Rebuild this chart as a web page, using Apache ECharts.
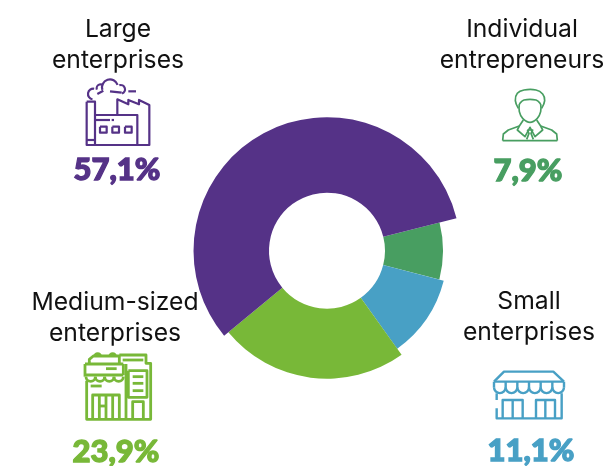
<!DOCTYPE html>
<html><head><meta charset="utf-8">
<style>html,body{margin:0;padding:0;background:#fff}#c{width:611px;height:466px}</style>
<script src="https://cdn.jsdelivr.net/npm/echarts@6/dist/echarts.min.js"></script>
</head><body><div id="c"></div>
<script>
const categories = ['Large\nenterprises','Individual\nentrepreneurs','Small\nenterprises','Medium-sized\nenterprises'];
const values = [57.1, 7.9, 11.1, 23.9];
const colors = ['#553287','#489e61','#48a0c5','#78b838'];
const outerRadii = [133.5, 116, 120.5, 128];
const labelPos = [[118,45],[522,45],[529,317],[115,318]];
const pctPos = [[117,170],[528,171],[531,451],[116,452]];

const chart = echarts.init(document.getElementById('c'), null, {renderer:'canvas'});
const graphic = [];
function poly(o, pts, color, w, smooth){
  graphic.push({type:'polyline', silent:true, shape:{points:pts.map(p=>[o[0]+p[0]/3,o[1]+p[1]/3]), smooth:smooth||0},
    style:{stroke:color, lineWidth:w||2, fill:null, lineJoin:'round', lineCap:'butt'}});
}
function box(o,x,y,w,h,color,lw){
  poly(o,[[x,y],[x+w,y],[x+w,y+h],[x,y+h],[x,y]],color,lw);
}
function arc(o,cx,cy,r,a0,a1,color,lw){
  graphic.push({type:'arc',silent:true,shape:{cx:o[0]+cx/3,cy:o[1]+cy/3,r:r/3,startAngle:a0,endAngle:a1,clockwise:true},
    style:{stroke:color,lineWidth:lw,fill:null}});
}
categories.forEach((c,i)=>{
  graphic.push({type:'text',silent:true,x:labelPos[i][0],y:labelPos[i][1],
    style:{text:c,font:'400 24.7px Inter',fill:'#111',align:'center',verticalAlign:'middle',lineHeight:31.5}});
  graphic.push({type:'text',silent:true,x:pctPos[i][0],y:pctPos[i][1],
    style:{text:String(values[i]).replace('.',',')+'%',font:'900 31px Lato',fill:colors[i],align:'center',verticalAlign:'middle',stroke:colors[i],lineWidth:1.3}});
});
const PI=Math.PI;
// factory icon
(function(){const o=[60,70],c=colors[0],w=2.2;
  box(o,80,95,25,130,c,w);
  poly(o,[[80,210],[105,210]],c,w);
  poly(o,[[105,135],[232,135],[232,225]],c,w);
  poly(o,[[105,225],[268,225],[268,105],[237,90],[237,103],[205,90],[205,103],[172,88],[172,135]],c,w);
  poly(o,[[108,150],[150,150]],c,w);poly(o,[[155,150],[162,150]],c,w);
  box(o,120,170,20,18,c,w);box(o,157,170,20,18,c,w);box(o,195,170,20,18,c,w);
  arc(o,100,72,16,PI*0.55,PI*1.55,c,w);
  arc(o,150,52,24,PI*0.9,PI*1.9,c,w);
  arc(o,122,55,12,PI*0.9,PI*1.7,c,w);
  arc(o,182,58,13,PI*1.4,PI*0.4,c,w);
  poly(o,[[112,72],[130,62]],c,w);
  poly(o,[[150,64],[185,68]],c,w);
  poly(o,[[205,64],[228,64]],c,w);
})();
// person icon
(function(){const o=[480,80],c=colors[1],w=1.7;
  poly(o,[[118,72],[118,95],[128,115],[150,127],[172,115],[182,95],[182,72]],c,w,0.4);
  poly(o,[[118,72],[132,60],[168,60],[182,72]],c,w,0.3);
  poly(o,[[115,85],[106,62],[112,40],[132,30],[168,30],[188,42],[194,62],[185,85]],c,w,0.4);
  poly(o,[[68,182],[70,162],[85,150],[118,138],[130,120]],c,w);
  poly(o,[[232,182],[230,162],[215,150],[182,138],[170,120]],c,w);
  poly(o,[[68,182],[232,182]],c,w);
  poly(o,[[118,138],[112,150],[135,170],[150,142],[165,170],[188,150],[182,138]],c,w);
  poly(o,[[142,150],[158,150],[153,160],[160,178]],c,w);
  poly(o,[[142,150],[147,160],[140,178]],c,w);
})();
// medium-sized building icon
(function(){const o=[60,340],c=colors[3],w=2.8;
  poly(o,[[88,72],[88,58],[100,48],[178,48],[178,72]],c,w);
  arc(o,113,50,9,PI,0,c,w);arc(o,158,50,9,PI,0,c,w);
  poly(o,[[75,72],[190,72]],c,w);
  poly(o,[[75,72],[75,110]],c,w);
  poly(o,[[190,72],[190,105]],c,w);
  [92,120,148,176].forEach(x=>arc(o,x,110,14,0,PI,c,w));
  poly(o,[[78,105],[190,105]],c,w);
  poly(o,[[178,45],[258,45],[258,70],[272,70],[272,238],[80,238],[80,122]],c,w);
  poly(o,[[188,60],[250,60]],c,w);
  box(o,205,92,56,80,c,w);
  poly(o,[[218,110],[250,110]],c,w);poly(o,[[218,130],[250,130]],c,w);poly(o,[[218,152],[250,152]],c,w);
  poly(o,[[198,72],[198,238]],c,w);
  poly(o,[[98,238],[98,165],[178,165],[178,238]],c,w);
  poly(o,[[118,165],[118,238]],c,w);poly(o,[[138,165],[138,238]],c,w);poly(o,[[158,165],[158,238]],c,w);
  poly(o,[[118,198],[138,198]],c,w);
  poly(o,[[218,238],[218,185],[250,185],[250,238]],c,w);
  poly(o,[[92,138],[125,138]],c,w);
  poly(o,[[138,86],[170,86]],c,w);
})();
// small store icon
(function(){const o=[470,350],c=colors[2],w=2.4;
  poly(o,[[72,95],[102,65],[250,65],[282,95]],c,w);
  poly(o,[[72,95],[282,95]],c,w);
  const xs=[72,107,142,177,212,247,282];
  for(let i=0;i<6;i++){
    arc(o,(xs[i]+xs[i+1])/2,112,17.5,0,PI,c,w);
    poly(o,[[xs[i],95],[xs[i],112]],c,w);
  }
  poly(o,[[282,95],[282,112]],c,w);
  poly(o,[[80,130],[80,150]],c,w);
  poly(o,[[80,175],[80,205],[275,205],[275,130]],c,w);
  poly(o,[[98,205],[98,150],[158,150],[158,205]],c,w);
  poly(o,[[128,150],[128,205]],c,w);
  poly(o,[[198,205],[198,150],[255,150],[255,205]],c,w);
  poly(o,[[226,150],[226,205]],c,w);
})();

// One pie per slice: the library computes every angle from the values; only one slice of each is painted.
const series = values.map((v,i)=>({
  type:'pie', center:[327,250.7], radius:[58,outerRadii[i]], startAngle:219.6, clockwise:true,
  label:{show:false}, labelLine:{show:false}, silent:true, animation:false, z:i===0?3:2,
  data:values.map((val,j)=>({value:val,name:categories[j],
    itemStyle:{color:j===i?colors[i]:'rgba(0,0,0,0)',borderWidth:0}}))
}));
chart.setOption({animation:false,backgroundColor:'#fff',series,graphic});
</script></body></html>
